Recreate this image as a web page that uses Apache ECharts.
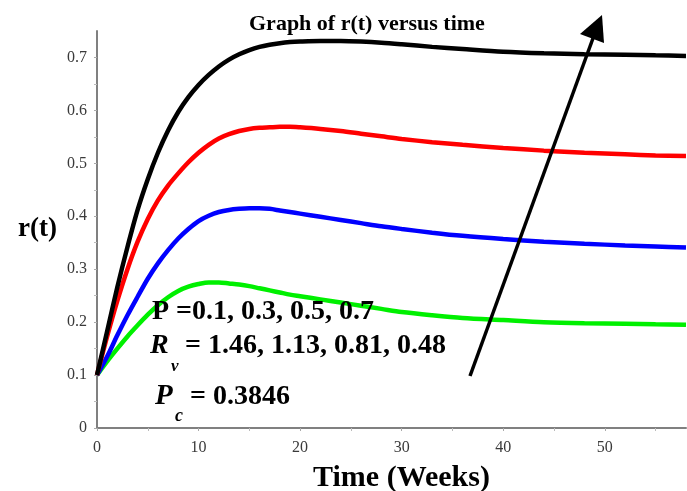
<!DOCTYPE html>
<html>
<head>
<meta charset="utf-8">
<script src="https://cdn.jsdelivr.net/npm/echarts@6/dist/echarts.min.js"></script>
<style>
  html, body { margin: 0; padding: 0; background: #fff; }
  #chart { width: 687px; height: 491px; }
</style>
</head>
<body>
<div id="chart"></div>
<script>
// Time points (weeks)
var time = [0,1,2,3,4,5,6,7,8,9,10,11,12,13,14,15,16,17,18,19,20,22,24,26,28,30,33,36,40,44,48,52,55,58];
// r(t) for P = 0.1 (black), 0.3 (red), 0.5 (blue), 0.7 (green)
var rBlack = [0.100,0.183,0.266,0.342,0.412,0.470,0.520,0.562,0.597,0.625,0.648,0.667,0.683,0.696,0.706,0.714,0.720,0.724,0.727,0.729,0.730,0.731,0.731,0.730,0.728,0.725,0.720,0.716,0.711,0.708,0.706,0.705,0.704,0.703];
var rRed   = [0.100,0.173,0.240,0.300,0.352,0.395,0.430,0.458,0.481,0.502,0.520,0.535,0.547,0.555,0.561,0.565,0.567,0.568,0.569,0.569,0.568,0.565,0.561,0.556,0.551,0.546,0.540,0.535,0.529,0.524,0.520,0.517,0.515,0.514];
var rBlue  = [0.100,0.135,0.175,0.213,0.248,0.282,0.311,0.336,0.358,0.376,0.391,0.401,0.408,0.412,0.414,0.415,0.415,0.414,0.411,0.408,0.405,0.399,0.393,0.387,0.381,0.376,0.369,0.363,0.357,0.352,0.348,0.345,0.343,0.341];
var rGreen = [0.100,0.126,0.150,0.173,0.194,0.214,0.232,0.247,0.259,0.267,0.272,0.275,0.275,0.273,0.271,0.268,0.264,0.260,0.256,0.252,0.249,0.243,0.237,0.231,0.225,0.219,0.213,0.208,0.204,0.200,0.198,0.197,0.196,0.195];
var xTicks = [0,10,20,30,40,50];
var yTicks = [0,0.1,0.2,0.3,0.4,0.5,0.6,0.7];

function pairs(vals) { return time.map(function (t, i) { return [t, vals[i]]; }); }

var serif = '"Liberation Serif", "DejaVu Serif", serif';
var chart = echarts.init(document.getElementById('chart'), null, { renderer: 'canvas' });

function mkSeries(name, vals, color) {
  return {
    name: name, type: 'line', data: pairs(vals), smooth: 0.3, showSymbol: false,
    lineStyle: { color: color, width: 4.5 }, itemStyle: { color: color }, z: 3
  };
}
function txt(x, y, s, size, italic) {
  return { type: 'text', left: x, top: y, z: 20,
    style: { text: s, fontFamily: serif, fontWeight: 'bold', fontStyle: italic ? 'italic' : 'normal',
             fontSize: size, fill: '#000' } };
}

chart.setOption({
  animation: false,
  backgroundColor: '#fff',
  title: {
    text: 'Graph of r(t) versus time', left: 244, top: 8,
    textStyle: { fontFamily: serif, fontWeight: 'bold', fontSize: 22, color: '#000' }
  },
  grid: { left: 97, right: 1, top: 31, bottom: 63, containLabel: false, outerBoundsMode: 'none' },
  xAxis: {
    type: 'value', min: 0, max: 58, interval: 10,
    axisLine: { lineStyle: { color: '#808080', width: 2 } },
    axisTick: { show: true, length: 3, lineStyle: { color: '#aaa' }, customValues: xTicks },
    minorTick: { show: true, splitNumber: 2, length: 3, lineStyle: { color: '#bbb' } },
    axisLabel: { customValues: xTicks, margin: 12, fontFamily: serif, fontSize: 16, color: '#3a3a3a' },
    splitLine: { show: false },
    name: 'Time (Weeks)', nameLocation: 'middle', nameGap: 35,
    nameTextStyle: { fontFamily: serif, fontWeight: 'bold', fontSize: 30, color: '#000', padding: [0, 0, 0, 20] }
  },
  yAxis: {
    type: 'value', min: 0, max: 0.75, interval: 0.1,
    axisLine: { show: true, lineStyle: { color: '#808080', width: 2 } },
    axisTick: { show: true, length: 3, lineStyle: { color: '#aaa' }, customValues: yTicks },
    minorTick: { show: true, splitNumber: 2, length: 3, lineStyle: { color: '#bbb' } },
    axisLabel: { customValues: yTicks, margin: 10, fontFamily: serif, fontSize: 16, color: '#3a3a3a',
      formatter: function (v) { return v === 0 ? '0' : v.toFixed(1); } },
    splitLine: { show: false },
    name: 'r(t)', nameLocation: 'middle', nameGap: 40, nameRotate: 0,
    nameTextStyle: { fontFamily: serif, fontWeight: 'bold', fontSize: 27, color: '#000', padding: [16, 0, 0, 0] }
  },
  series: [
    mkSeries('P=0.7', rGreen, '#00f000'),
    mkSeries('P=0.5', rBlue, '#0000ff'),
    mkSeries('P=0.3', rRed, '#ff0000'),
    mkSeries('P=0.1', rBlack, '#000000')
  ],
  graphic: [
    { type: 'line', shape: { x1: 470, y1: 376, x2: 596, y2: 30 }, style: { stroke: '#000', lineWidth: 3.5 }, z: 10 },
    { type: 'polygon', shape: { points: [[602, 15], [580, 34], [604, 43]] }, style: { fill: '#000' }, z: 10 },
    txt(152, 298, 'P =0.1, 0.3, 0.5, 0.7', 28, false),
    txt(150, 332, 'R', 28, true),
    txt(185, 332, '= 1.46, 1.13, 0.81, 0.48', 28, false),
    txt(171, 358, 'v', 17, true),
    txt(155, 382, 'P', 29, true),
    txt(190, 383, '= 0.3846', 28, false),
    txt(175, 407, 'c', 18, true)
  ]
});
</script>
</body>
</html>
